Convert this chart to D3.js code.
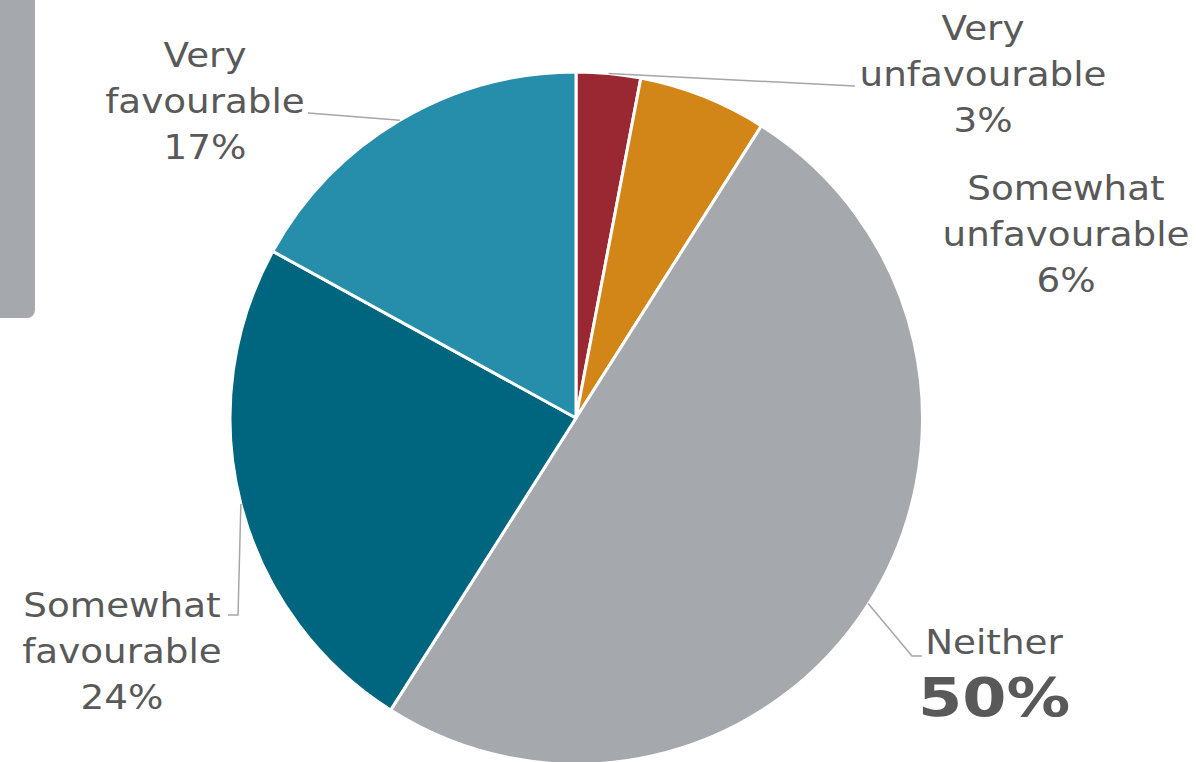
<!DOCTYPE html>
<html>
<head>
<meta charset="utf-8">
<script src="https://cdn.jsdelivr.net/npm/d3@7"></script>
<style>
  html, body { margin: 0; padding: 0; background: #fff; }
  svg { display: block; font-family: "DejaVu Sans", Verdana, sans-serif; }
</style>
</head>
<body>
<svg id="chart" width="1196" height="762"></svg>
<script>
var width = 1196;
var height = 762;

// data
var categories = ['Very unfavourable', 'Somewhat unfavourable', 'Neither', 'Somewhat favourable', 'Very favourable'];
var values = [3, 6, 50, 24, 17];
var colors = ['#9a2832', '#d38618', '#a5a9ae', '#00657f', '#268daa'];

// label layout: text block anchor and leader elbow (null = no leader)
var labelLayout = [
    { x: 983, y: 40, lines: ['Very', 'unfavourable'], elbow: [[855, 86]] },
    { x: 1066, y: 200, lines: ['Somewhat', 'unfavourable'], elbow: null },
    { x: 994, y: 654, lines: ['Neither'], elbow: [[912, 656], [922, 656]], big: true },
    { x: 122, y: 617, lines: ['Somewhat', 'favourable'], elbow: [[238, 615], [228, 615]] },
    { x: 205, y: 67, lines: ['Very', 'favourable'], elbow: [[308, 113]] }
];

var cx = 576, cy = 418, radius = 346;
var lineHeight = 46;
var stretch = 1.13;   // Verdana-ish width from DejaVu Sans

var svg = d3.select('#chart');

// partial grey panel on the left
svg.append('rect')
    .attr('x', -20)
    .attr('y', -20)
    .attr('width', 55)
    .attr('height', 338)
    .attr('rx', 8)
    .attr('fill', '#a5a9ae');

var pie = d3.pie().sort(null).value(function(d) { return d; });
var arcs = pie(values);

var arc = d3.arc().innerRadius(0).outerRadius(radius);

var g = svg.append('g').attr('transform', 'translate(' + cx + ',' + cy + ')');

g.selectAll('path.slice')
    .data(arcs)
    .join('path')
    .classed('slice', true)
    .attr('d', arc)
    .attr('fill', function(d, i) { return colors[i]; })
    .attr('stroke', '#fff')
    .attr('stroke-width', 3)
    .attr('stroke-linejoin', 'round');

// leader lines
arcs.forEach(function(d, i) {
    var lay = labelLayout[i];
    if (!lay.elbow) return;
    var mid = (d.startAngle + d.endAngle) / 2;
    var pts = [[cx + radius * Math.sin(mid), cy - radius * Math.cos(mid)]].concat(lay.elbow);
    svg.append('path')
        .attr('d', d3.line()(pts))
        .attr('fill', 'none')
        .attr('stroke', '#a6a6a6')
        .attr('stroke-width', 1.5);
});

function addLine(x, y, str, sx) {
    return svg.append('text')
        .attr('transform', 'translate(' + x + ',' + y + ') scale(' + sx + ',1)')
        .attr('text-anchor', 'middle')
        .attr('fill', '#595959')
        .style('font-size', '33px')
        .text(str);
}

// labels
arcs.forEach(function(d, i) {
    var lay = labelLayout[i];
    lay.lines.forEach(function(line, j) {
        addLine(lay.x, lay.y + j * lineHeight, line, stretch);
    });
    if (lay.big) {
        addLine(lay.x, lay.y + lay.lines.length * lineHeight + 16, values[i] + '%', 1.2)
            .style('font-size', '53px')
            .style('font-weight', 'bold');
    } else {
        addLine(lay.x, lay.y + lay.lines.length * lineHeight, values[i] + '%', stretch);
    }
});
</script>
</body>
</html>
